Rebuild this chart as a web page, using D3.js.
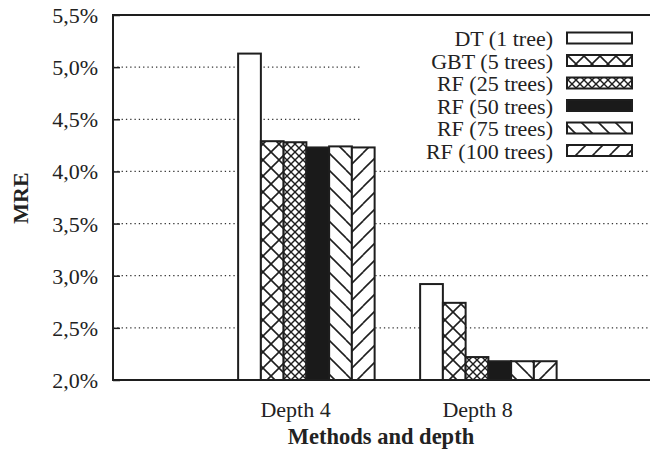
<!DOCTYPE html>
<html>
<head>
<meta charset="utf-8">
<script src="https://cdn.jsdelivr.net/npm/d3@7"></script>
<style>
  html, body { margin: 0; padding: 0; background: #fff; }
  svg { display: block; }
  text { font-family: "Liberation Serif", "DejaVu Serif", serif; fill: #222; }
</style>
</head>
<body>
<svg id="chart" width="650" height="449"></svg>
<script>
// Mean relative error per method, grouped by tree depth
const categories = ["Depth 4", "Depth 8"];
const seriesNames = ["DT (1 tree)", "GBT (5 trees)", "RF (25 trees)", "RF (50 trees)", "RF (75 trees)", "RF (100 trees)"];
const dtValues    = [5.13, 2.92];
const gbtValues   = [4.29, 2.74];
const rf25Values  = [4.28, 2.22];
const rf50Values  = [4.23, 2.18];
const rf75Values  = [4.24, 2.18];
const rf100Values = [4.23, 2.18];
const yTicks = [2.0, 2.5, 3.0, 3.5, 4.0, 4.5, 5.0, 5.5];
const yLabel = "MRE";
const xLabel = "Methods and depth";

const seriesValues = [dtValues, gbtValues, rf25Values, rf50Values, rf75Values, rf100Values];
const fills = ["#fff", "url(#pCross)", "url(#pFine)", "#1a1a1a", "url(#pBack)", "url(#pFwd)"];

const svg = d3.select("#chart");
const plotLeft = 113, plotTop = 15, plotBottom = 380, plotRight = 659;
const ink = "#1e1e1e";

const x = d3.scaleLinear().domain([-1, 2]).range([plotLeft, plotRight]);
const y = d3.scaleLinear().domain([2.0, 5.5]).range([plotBottom, plotTop]);
const unit = x(1) - x(0);
const barW = unit / 8;
const inner = d3.scaleBand().domain(d3.range(seriesNames.length))
  .range([-2.5 * barW, 3.5 * barW]).padding(0);

const locale = d3.formatLocale({ decimal: ",", thousands: ".", grouping: [3], currency: ["", ""] });
const fmt = locale.format(".1f");

// hatch patterns
const defs = svg.append("defs");
function pattern(id, size, paths, sw) {
  const p = defs.append("pattern").attr("id", id).attr("patternUnits", "userSpaceOnUse")
    .attr("width", size).attr("height", size);
  p.append("rect").attr("width", size).attr("height", size).attr("fill", "#fff");
  paths.forEach(d => p.append("path").attr("d", d).attr("stroke", ink)
    .attr("stroke-width", sw).attr("fill", "none"));
}
pattern("pCross", 16, ["M0,0L16,16", "M16,0L0,16"], 1.6);
pattern("pFine", 8, ["M0,0L8,8", "M8,0L0,8"], 1.4);
pattern("pBack", 17, ["M0,0L17,17", "M-17,0L0,17", "M17,0L34,17", "M0,-17L17,0", "M0,17L17,34"], 1.6);
pattern("pFwd", 17, ["M0,17L17,0", "M-17,17L0,0", "M17,17L34,0", "M0,0L17,-17", "M0,34L17,17"], 1.6);

// dotted grid
svg.append("g").selectAll("line").data(yTicks.filter(t => t > 2.0 && t < 5.5)).join("line")
  .attr("x1", plotLeft).attr("x2", 650).attr("y1", d => y(d)).attr("y2", d => y(d))
  .attr("stroke", "#333").attr("stroke-width", 1.3).attr("stroke-dasharray", "1.3,3");

// key background
const keyX0 = 362, keyTop = 24, rowH = 22.5;
svg.append("rect").attr("x", keyX0).attr("y", keyTop).attr("width", 660 - keyX0)
  .attr("height", rowH * seriesNames.length + 2).attr("fill", "#fff");

// bars
const groups = svg.append("g").selectAll("g").data(categories).join("g")
  .attr("transform", (d, i) => `translate(${x(i)},0)`);
groups.selectAll("rect").data((d, gi) => seriesValues.map((vals, si) => ({ si, v: vals[gi] })))
  .join("rect")
  .attr("x", d => inner(d.si))
  .attr("width", inner.bandwidth())
  .attr("y", d => y(d.v))
  .attr("height", d => y(2.0) - y(d.v))
  .attr("fill", d => fills[d.si])
  .attr("stroke", ink).attr("stroke-width", 2);

// frame
svg.append("path").attr("d", `M660,${plotTop}H${plotLeft}V${plotBottom}H660`)
  .attr("fill", "none").attr("stroke", ink).attr("stroke-width", 2);

// y axis
const yAxis = d3.axisLeft(y).tickValues(yTicks).tickSize(-7).tickPadding(15)
  .tickFormat(d => fmt(d) + "%");
const ya = svg.append("g").attr("transform", `translate(${plotLeft},0)`).call(yAxis);
ya.select(".domain").remove();
ya.selectAll("line").attr("stroke", ink).attr("stroke-width", 1.5);
ya.selectAll("text").attr("font-size", 22).attr("fill", "#222")
  .attr("font-family", "'Liberation Serif', serif").attr("dy", "0.34em");

// x category labels
const xAxis = d3.axisBottom(x).tickValues([0, 1]).tickSize(0).tickPadding(0)
  .tickFormat(d => categories[d]);
const xa = svg.append("g").attr("transform", `translate(0,${plotBottom})`).call(xAxis);
xa.select(".domain").remove();
xa.selectAll("text").attr("font-size", 22).attr("fill", "#222")
  .attr("font-family", "'Liberation Serif', serif").attr("y", 37).attr("dy", 0);

// axis titles
svg.append("text").attr("x", 381).attr("y", 444).attr("text-anchor", "middle")
  .attr("font-size", 22.5).attr("font-weight", "bold").text(xLabel);
svg.append("text").attr("transform", "translate(28,198) rotate(-90)").attr("text-anchor", "middle")
  .attr("font-size", 22).attr("font-weight", "bold").text(yLabel);

// key entries
const key = svg.append("g");
seriesNames.forEach((name, i) => {
  const cy = 38 + i * rowH;
  key.append("text").attr("x", 553).attr("y", cy + 8).attr("text-anchor", "end")
    .attr("font-size", 22).text(name);
  key.append("rect").attr("x", 567).attr("y", cy - 5.5).attr("width", 65).attr("height", 11)
    .attr("fill", fills[i]).attr("stroke", ink).attr("stroke-width", 2);
});
</script>
</body>
</html>
